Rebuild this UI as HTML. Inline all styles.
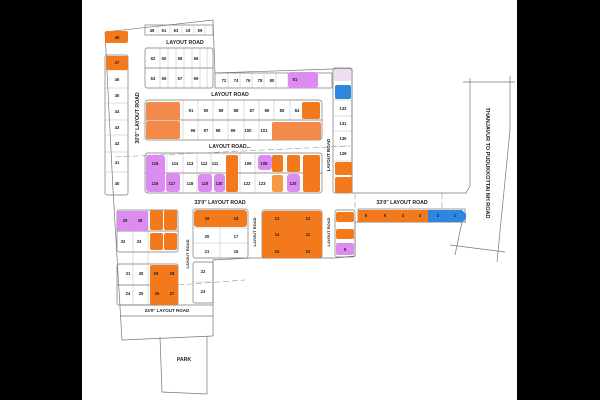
<!DOCTYPE html>
<html><head><meta charset="utf-8"><style>
html,body{margin:0;padding:0;background:#000;}
svg{display:block}
text{font-family:"Liberation Sans",sans-serif;font-weight:bold;fill:#222;}
</style></head><body>
<svg width="600" height="400" viewBox="0 0 600 400" xmlns="http://www.w3.org/2000/svg">
<rect x="0" y="0" width="600" height="400" fill="#000"/>
<rect x="82" y="0" width="435" height="400" fill="#fff"/>
<g fill="none" stroke="#777" stroke-width="0.7">
<!-- outer boundary -->
<polyline points="105,32 213,20 215,73 332,69 352,69 352,193 466,193 470,186 470,78"/>
<polyline points="105,32 113,190 122,340 213,336"/>
<polyline points="213,336 213,260 250,258 335,258 355,256 355,222 466,222"/>
<polyline points="160,337 162,392 207,394 207,336"/>
<line x1="510" y1="76" x2="510" y2="130"/><line x1="510" y1="130" x2="497" y2="262"/>
<line x1="463" y1="82" x2="515" y2="82"/><line x1="450" y1="245" x2="505" y2="252"/>
<line x1="462" y1="222" x2="455" y2="255"/>
<line x1="120" y1="305" x2="213" y2="305"/><line x1="120" y1="316" x2="213" y2="316"/>
<!-- blocks -->
<rect x="145" y="25" width="68" height="10"/>
<rect x="145" y="48" width="68" height="40" rx="2"/><line x1="145" y1="68" x2="213" y2="68"/>
<rect x="215" y="73" width="117" height="15"/>
<rect x="145" y="100" width="177" height="40" rx="3"/><line x1="145" y1="120" x2="322" y2="120"/>
<rect x="145" y="153" width="177" height="40" rx="3"/><line x1="145" y1="173" x2="322" y2="173"/>
<rect x="105" y="55" width="23" height="140" rx="2"/>
<rect x="333" y="68" width="19" height="125" rx="2"/>
<rect x="117" y="210" width="61" height="42" rx="2"/><line x1="117" y1="231" x2="178" y2="231"/>
<rect x="117" y="264" width="61" height="41" rx="2"/><line x1="117" y1="285" x2="178" y2="285"/>
<rect x="193" y="209" width="55" height="49" rx="2"/>
<rect x="193" y="262" width="20" height="41" rx="2"/>
<rect x="262" y="210" width="60" height="48" rx="2"/>
<rect x="335" y="210" width="20" height="47" rx="2"/>
<rect x="358" y="209" width="107" height="13"/>
</g>
<g stroke="#aaa" stroke-width="0.4">
<line x1="158" y1="25" x2="158" y2="35"/><line x1="170" y1="25" x2="170" y2="35"/><line x1="182" y1="25" x2="182" y2="35"/><line x1="194" y1="25" x2="194" y2="35"/><line x1="205" y1="25" x2="205" y2="35"/>
<line x1="160" y1="48" x2="160" y2="88"/><line x1="168" y1="48" x2="168" y2="88"/><line x1="176" y1="48" x2="176" y2="88"/><line x1="184" y1="48" x2="184" y2="88"/><line x1="192" y1="48" x2="192" y2="88"/><line x1="200" y1="48" x2="200" y2="88"/><line x1="207" y1="48" x2="207" y2="88"/>
<line x1="228" y1="73" x2="228" y2="88"/><line x1="240" y1="73" x2="240" y2="88"/><line x1="252" y1="73" x2="252" y2="88"/><line x1="264" y1="73" x2="264" y2="88"/><line x1="276" y1="73" x2="276" y2="88"/><line x1="288" y1="73" x2="288" y2="88"/>
<line x1="183" y1="100" x2="183" y2="140"/><line x1="198" y1="100" x2="198" y2="140"/><line x1="213" y1="100" x2="213" y2="140"/><line x1="228" y1="100" x2="228" y2="140"/><line x1="244" y1="100" x2="244" y2="140"/><line x1="259" y1="100" x2="259" y2="140"/><line x1="274" y1="100" x2="274" y2="120"/><line x1="290" y1="100" x2="290" y2="120"/>
<line x1="167" y1="153" x2="167" y2="193"/><line x1="183" y1="153" x2="183" y2="193"/><line x1="197" y1="153" x2="197" y2="193"/><line x1="211" y1="153" x2="211" y2="193"/><line x1="240" y1="153" x2="240" y2="193"/><line x1="255" y1="153" x2="255" y2="193"/>
<line x1="105" y1="70" x2="128" y2="70"/><line x1="105" y1="88" x2="128" y2="88"/><line x1="105" y1="103" x2="128" y2="103"/><line x1="105" y1="120" x2="128" y2="120"/><line x1="105" y1="135" x2="128" y2="135"/><line x1="105" y1="152" x2="128" y2="152"/><line x1="105" y1="172" x2="128" y2="172"/>
<line x1="333" y1="100" x2="352" y2="100"/><line x1="333" y1="116" x2="352" y2="116"/><line x1="333" y1="131" x2="352" y2="131"/><line x1="333" y1="146" x2="352" y2="146"/><line x1="333" y1="161" x2="352" y2="161"/>
<line x1="193" y1="228" x2="248" y2="228"/><line x1="193" y1="243" x2="248" y2="243"/><line x1="220" y1="209" x2="220" y2="258"/>
<line x1="193" y1="282" x2="213" y2="282"/>
<line x1="133" y1="210" x2="133" y2="305"/><line x1="148" y1="210" x2="148" y2="305"/>
</g>
<g stroke="#999" stroke-width="0.6" stroke-dasharray="6,3" fill="none">
<line x1="115" y1="157" x2="350" y2="146"/><line x1="178" y1="285" x2="245" y2="280"/>
<line x1="355" y1="193" x2="355" y2="210"/><line x1="442" y1="193" x2="442" y2="209"/>
</g>
<g fill="#f27a1c">
<rect x="105" y="31" width="23" height="12" rx="2"/>
<rect x="106" y="56" width="22" height="14" rx="2"/>
<rect x="146" y="102" width="34" height="18" rx="2" fill="#f38a4a"/><rect x="146" y="121" width="34" height="18" rx="2" fill="#f38a4a"/>
<rect x="302" y="102" width="18" height="17" rx="2"/>
<rect x="272" y="122" width="49" height="18" rx="2" fill="#f38a4a"/>
<rect x="226" y="155" width="12" height="37" rx="2"/>
<rect x="272" y="155" width="11" height="17" rx="2"/><rect x="272" y="175" width="11" height="17" rx="2" fill="#f59a40"/>
<rect x="287" y="155" width="13" height="17" rx="2"/><rect x="303" y="155" width="17" height="37" rx="2"/>
<rect x="335" y="162" width="17" height="13" rx="2"/><rect x="335" y="177" width="17" height="16" rx="2"/>
<rect x="150" y="210" width="13" height="20" rx="2"/><rect x="164" y="210" width="13" height="20" rx="2"/>
<rect x="150" y="233" width="13" height="17" rx="2"/><rect x="164" y="233" width="13" height="17" rx="2"/>
<rect x="150" y="265" width="28" height="40" rx="2"/>
<rect x="194" y="210" width="53" height="17" rx="3"/>
<rect x="262" y="211" width="60" height="47" rx="3"/>
<rect x="336" y="212" width="18" height="10" rx="2"/><rect x="336" y="229" width="18" height="10" rx="2"/>
<rect x="358" y="210" width="70" height="12"/>
</g>
<g fill="#dc8cf0">
<rect x="288" y="72" width="30" height="16" rx="3"/>
<rect x="334" y="69" width="17" height="12" rx="2" fill="#eedcf5"/>
<rect x="146" y="155" width="19" height="37" rx="3"/><rect x="166" y="173" width="14" height="19" rx="3"/>
<rect x="198" y="174" width="14" height="18" rx="3"/><rect x="214" y="174" width="11" height="18" rx="3"/>
<rect x="258" y="155" width="14" height="15" rx="3"/><rect x="287" y="174" width="13" height="18" rx="3"/>
<rect x="117" y="211" width="31" height="20" rx="2"/>
<rect x="336" y="243" width="18" height="12" rx="2"/>
</g>
<g fill="#2f86e0">
<rect x="335" y="85" width="16" height="14" rx="2"/>
<path d="M428,210 H462 L466,214 V219 L462,222 H428 Z"/>
</g>
<g font-size="4.2" text-anchor="middle">
<text x="117" y="39">48</text><text x="117" y="64">47</text><text x="117" y="81">46</text><text x="117" y="97">45</text><text x="117" y="113">44</text><text x="117" y="129">43</text><text x="117" y="145">42</text><text x="117" y="164">41</text><text x="117" y="185">40</text>
<text x="152" y="32">49</text><text x="164" y="32">51</text><text x="176" y="32">53</text><text x="188" y="32">18</text><text x="200" y="32">59</text>
<text x="153" y="60">62</text><text x="164" y="60">60</text><text x="180" y="60">58</text><text x="196" y="60">56</text>
<text x="153" y="80">63</text><text x="164" y="80">65</text><text x="180" y="80">67</text><text x="196" y="80">69</text>
<text x="224" y="82">72</text><text x="236" y="82">74</text><text x="248" y="82">76</text><text x="260" y="82">78</text><text x="272" y="82">80</text><text x="295" y="81">81</text>
<text x="191" y="112">91</text><text x="206" y="112">90</text><text x="221" y="112">89</text><text x="236" y="112">88</text><text x="252" y="112">87</text><text x="267" y="112">86</text><text x="282" y="112">85</text><text x="297" y="112">84</text>
<text x="193" y="132">96</text><text x="206" y="132">97</text><text x="218" y="132">98</text><text x="233" y="132">99</text><text x="248" y="132">100</text><text x="264" y="132">101</text>
<text x="155" y="165">115</text><text x="175" y="165">114</text><text x="190" y="165">113</text><text x="204" y="165">112</text><text x="215" y="165">111</text><text x="248" y="165">109</text><text x="264" y="165">108</text>
<text x="155" y="185">116</text><text x="172" y="185">117</text><text x="190" y="185">118</text><text x="205" y="185">119</text><text x="219" y="185">120</text><text x="247" y="185">122</text><text x="262" y="185">123</text><text x="293" y="185">125</text>
<text x="343" y="110">132</text><text x="343" y="125">131</text><text x="343" y="140">130</text><text x="343" y="155">129</text>
<text x="125" y="222">29</text><text x="140" y="222">38</text><text x="123" y="243">32</text><text x="139" y="243">33</text>
<text x="207" y="220">19</text><text x="236" y="220">18</text><text x="207" y="238">20</text><text x="236" y="238">17</text><text x="207" y="253">21</text><text x="236" y="253">16</text>
<text x="203" y="273">22</text><text x="203" y="293">23</text>
<text x="128" y="275">31</text><text x="141" y="275">30</text><text x="156" y="275">29</text><text x="172" y="275">28</text>
<text x="128" y="295">24</text><text x="141" y="295">25</text><text x="157" y="295">26</text><text x="172" y="295">27</text>
<text x="277" y="220">13</text><text x="308" y="220">12</text><text x="277" y="236">14</text><text x="308" y="236">11</text><text x="277" y="253">15</text><text x="308" y="253">10</text>
<text x="345" y="251">9</text>
<text x="366" y="217">6</text><text x="385" y="217">5</text><text x="403" y="217">4</text><text x="420" y="217">3</text><text x="438" y="217">2</text><text x="455" y="217">1</text>
</g>
<g font-size="5.2" text-anchor="middle">
<text x="185" y="44">LAYOUT ROAD</text>
<text x="230" y="96">LAYOUT ROAD</text>
<text x="230" y="148">LAYOUT ROAD...</text>
<text x="220" y="204">33'0" LAYOUT ROAD</text>
<text x="402" y="204">33'0" LAYOUT ROAD</text>
<text x="167" y="312" font-size="4.5">24'0" LAYOUT ROAD</text>
<text x="184" y="361">PARK</text>
<text transform="translate(139,118) rotate(-90)">30'0" LAYOUT ROAD</text>
<text transform="translate(330,155) rotate(-90)" font-size="4.5">LAYOUT ROAD</text>
<text transform="translate(330,232) rotate(-90)" font-size="4">LAYOUT ROAD</text>
<text transform="translate(256,232) rotate(-90)" font-size="4">LAYOUT ROAD</text>
<text transform="translate(189,254) rotate(-90)" font-size="4">LAYOUT ROAD</text>
<text transform="translate(486,163) rotate(90)" font-size="5.5">THANJAVUR TO PUDUKKOTTAI NH ROAD</text>
</g>
</svg>
</body></html>
